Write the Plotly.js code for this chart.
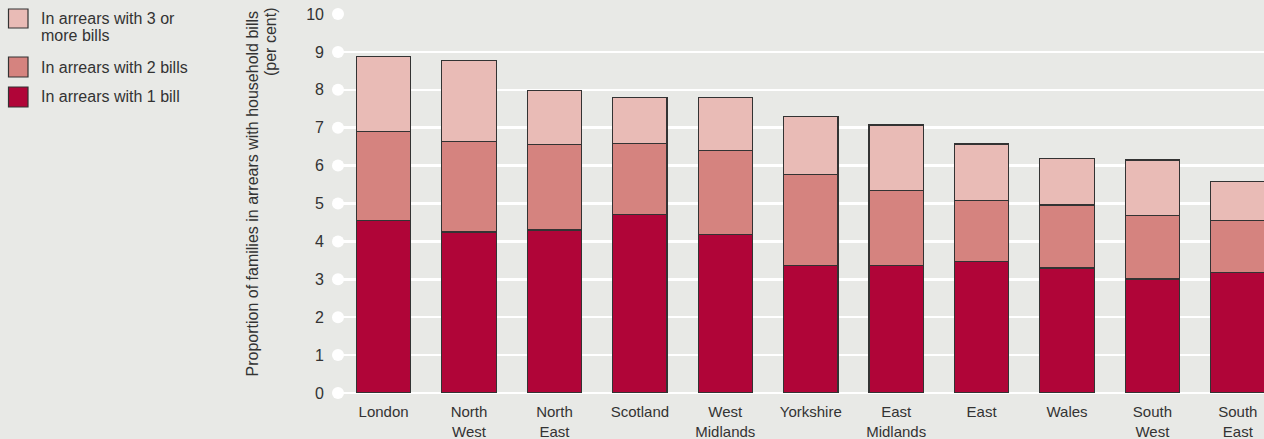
<!DOCTYPE html>
<html>
<head>
<meta charset="utf-8">
<script src="https://cdn.plot.ly/plotly-3.0.1.min.js"></script>
<style>html,body{margin:0;padding:0;background:#e8e9e6;}#chart{width:1264px;height:439px;}</style>
</head>
<body>
<div id="chart"></div>
<script>
var regions = ["London", "North<br>West", "North<br>East", "Scotland", "West<br>Midlands", "Yorkshire", "East<br>Midlands", "East", "Wales", "South<br>West", "South<br>East"];
var oneBill   = [4.55, 4.25, 4.30, 4.70, 4.19, 3.37, 3.37, 3.46, 3.30, 3.01, 3.17];
var twoBills  = [2.35, 2.38, 2.25, 1.88, 2.20, 2.40, 1.97, 1.61, 1.66, 1.68, 1.39];
var threePlus = [1.97, 2.14, 1.44, 1.22, 1.40, 1.53, 1.73, 1.50, 1.22, 1.46, 1.03];
var seriesNames = ["In arrears with 1 bill", "In arrears with 2 bills", "In arrears with 3 or<br>more bills"];
var yTicks = [0, 1, 2, 3, 4, 5, 6, 7, 8, 9, 10];
var yTitle = "Proportion of families in arrears with household bills<br>(per cent)";

var colors = ["#b00538", "#d5837f", "#e9bbb6"];
var W = 1264, H = 439;
var M = {l: 338, r: 0, t: 14, b: 46};
var xRange = [-0.534, 10.306];
var idx = regions.map(function (_, i) { return i; });
var FONT = "Liberation Sans, Arial, sans-serif";
var TXT = "#333333";
var FS_TICK = 15, FS_YTICK = 16, FS_TXT = 16;

function px2x(px) { return (px - M.l) / (W - M.l - M.r); }
function px2y(py) { return (H - M.b - py) / (H - M.t - M.b); }

var dataSeries = [oneBill, twoBills, threePlus];
var traces = dataSeries.map(function (vals, k) {
  return {
    type: "bar", x: idx, y: vals, name: seriesNames[k], width: 0.636,
    marker: {color: colors[k], line: {color: "#333333", width: 1.2}},
    showlegend: false, hoverinfo: "y"
  };
});
traces.push({
  type: "scatter", mode: "markers", x: yTicks.map(function () { return xRange[0]; }), y: yTicks,
  marker: {size: 12, color: "#ffffff"}, cliponaxis: false, showlegend: false, hoverinfo: "skip"
});

var shapes = [], annotations = [];
var legendItems = [
  {k: 2, y0: 9, y1: 28, lines: [18, 35]},
  {k: 1, y0: 57, y1: 77, lines: [67]},
  {k: 0, y0: 87, y1: 107, lines: [97]}
];
legendItems.forEach(function (it) {
  shapes.push({type: "rect", xref: "paper", yref: "paper",
    x0: px2x(8.5), x1: px2x(28), y0: px2y(it.y0), y1: px2y(it.y1),
    fillcolor: colors[it.k], line: {color: "#333333", width: 1.2}});
  var parts = seriesNames[it.k].split("<br>");
  parts.forEach(function (p, j) {
    annotations.push({xref: "paper", yref: "paper", x: px2x(38.5), y: px2y(it.lines[j]),
      xanchor: "left", yanchor: "middle", align: "left", showarrow: false,
      text: p, font: {family: FONT, size: FS_TXT, color: TXT}});
  });
});
var titleParts = yTitle.split("<br>");
var titlePos = [[252, 193.5], [270, 42]];
titleParts.forEach(function (p, j) {
  annotations.push({xref: "paper", yref: "paper", x: px2x(titlePos[j][0]), y: px2y(titlePos[j][1]),
    xanchor: "center", yanchor: "middle", textangle: -90, showarrow: false,
    text: p, font: {family: FONT, size: FS_TXT, color: TXT}});
});

var layout = {
  width: W, height: H, margin: M,
  paper_bgcolor: "#e8e9e6", plot_bgcolor: "#e8e9e6",
  barmode: "stack", showlegend: false,
  font: {family: FONT, size: FS_TICK, color: TXT},
  xaxis: {range: xRange, tickvals: idx, ticktext: regions, showgrid: false, zeroline: false,
    showline: false, ticks: "", ticklabelstandoff: 8, tickfont: {family: FONT, size: FS_TICK, color: TXT}, fixedrange: true},
  yaxis: {range: [0, 10], tickvals: yTicks, showgrid: true, gridcolor: "#ffffff", gridwidth: 2.5,
    zeroline: true, zerolinecolor: "#ffffff", zerolinewidth: 2.5, showline: false, ticks: "",
    ticklabelstandoff: 13, tickfont: {family: FONT, size: FS_YTICK, color: TXT}, fixedrange: true},
  shapes: shapes, annotations: annotations
};
Plotly.newPlot("chart", traces, layout, {displayModeBar: false, staticPlot: true});
</script>
</body>
</html>
